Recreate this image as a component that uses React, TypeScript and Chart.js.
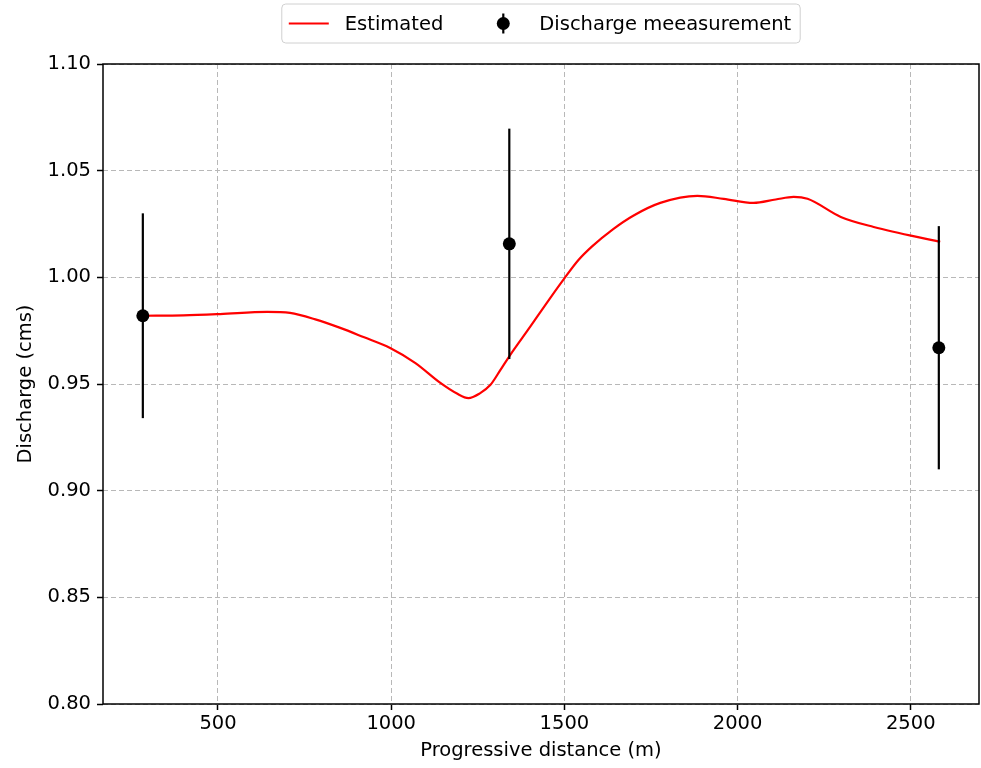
import React, { useEffect, useRef } from "react";
import { Chart, registerables } from "chart.js";

Chart.register(...registerables);

// Estimated discharge curve
const estX = [283, 400, 506, 642, 708, 781, 853, 920, 997, 1070, 1142, 1190, 1223, 1255, 1286, 1315, 1341, 1402, 1460, 1500, 1540, 1580, 1640, 1700, 1777, 1884, 1960, 2046, 2110, 2162, 2202, 2298, 2393, 2585];
const estY = [0.982, 0.9822, 0.9828, 0.9838, 0.9833, 0.9803, 0.9763, 0.972, 0.9669, 0.9598, 0.9505, 0.9455, 0.9434, 0.9455, 0.9495, 0.9565, 0.963, 0.977, 0.9905, 0.9995, 1.008, 1.0145, 1.0225, 1.029, 1.0349, 1.0382, 1.0368, 1.0349, 1.0365, 1.0377, 1.0368, 1.0283, 1.0236, 1.0166];

// Discharge measurements with error
const measX = [283, 1341, 2581];
const measY = [0.982, 1.0157, 0.967];
const measErr = [0.048, 0.054, 0.057];

const xTicks = [500, 1000, 1500, 2000, 2500];
const yTicks = [0.8, 0.85, 0.9, 0.95, 1.0, 1.05, 1.1];

const xTitle = "Progressive distance (m)";
const yTitle = "Discharge (cms)";
const legendLabels = ["Estimated", "Discharge meeasurement"];

const FONT = "DejaVu Sans";
const FS = 19.5;

export default function App() {
  const ref = useRef<HTMLCanvasElement | null>(null);

  useEffect(() => {
    const canvas = ref.current;
    if (!canvas) return;

    const errorBars = {
      id: "errorBars",
      afterDatasetsDraw(chart: any) {
        const ctx = chart.ctx;
        const xs = chart.scales.x;
        const ys = chart.scales.y;
        ctx.save();
        ctx.strokeStyle = "#000";
        ctx.lineWidth = 2.2;
        for (let i = 0; i < measX.length; i++) {
          const px = xs.getPixelForValue(measX[i]);
          ctx.beginPath();
          ctx.moveTo(px, ys.getPixelForValue(measY[i] - measErr[i]));
          ctx.lineTo(px, ys.getPixelForValue(measY[i] + measErr[i]));
          ctx.stroke();
        }
        for (let i = 0; i < measX.length; i++) {
          ctx.beginPath();
          ctx.fillStyle = "#000";
          ctx.arc(xs.getPixelForValue(measX[i]), ys.getPixelForValue(measY[i]), 6.5, 0, Math.PI * 2);
          ctx.fill();
        }
        ctx.restore();
      },
    };

    const frameAndLegend = {
      id: "frameAndLegend",
      afterDraw(chart: any) {
        const ctx = chart.ctx;
        const a = chart.chartArea;
        ctx.save();
        ctx.strokeStyle = "#000";
        ctx.lineWidth = 1.5;
        ctx.strokeRect(a.left, a.top, a.right - a.left, a.bottom - a.top);

        // legend
        ctx.font = `${FS}px "${FONT}"`;
        const w1 = ctx.measureText(legendLabels[0]).width;
        const w2 = ctx.measureText(legendLabels[1]).width;
        const handle = 40;
        const gapText = 16;
        const colGap = 40;
        const padL = 7;
        const padR = 9;
        const totalW = padL + handle + gapText + w1 + colGap + handle + gapText + w2 + padR;
        const cx = (a.left + a.right) / 2;
        const bx = cx - totalW / 2;
        const by = 4;
        const bh = 39;
        const cy = by + bh / 2;
        ctx.beginPath();
        const r = 4;
        ctx.moveTo(bx + r, by);
        ctx.lineTo(bx + totalW - r, by);
        ctx.quadraticCurveTo(bx + totalW, by, bx + totalW, by + r);
        ctx.lineTo(bx + totalW, by + bh - r);
        ctx.quadraticCurveTo(bx + totalW, by + bh, bx + totalW - r, by + bh);
        ctx.lineTo(bx + r, by + bh);
        ctx.quadraticCurveTo(bx, by + bh, bx, by + bh - r);
        ctx.lineTo(bx, by + r);
        ctx.quadraticCurveTo(bx, by, bx + r, by);
        ctx.closePath();
        ctx.fillStyle = "rgba(255,255,255,0.8)";
        ctx.fill();
        ctx.strokeStyle = "#d0d0d0";
        ctx.lineWidth = 1;
        ctx.stroke();

        let x = bx + padL;
        ctx.strokeStyle = "#ff0000";
        ctx.lineWidth = 2;
        ctx.beginPath();
        ctx.moveTo(x, cy);
        ctx.lineTo(x + handle, cy);
        ctx.stroke();
        x += handle + gapText;
        ctx.fillStyle = "#000";
        ctx.textBaseline = "middle";
        ctx.textAlign = "left";
        ctx.fillText(legendLabels[0], x, cy + 1);
        x += w1 + colGap;
        const mx = x + handle / 2;
        ctx.strokeStyle = "#000";
        ctx.lineWidth = 2.2;
        ctx.beginPath();
        ctx.moveTo(mx, cy - 10);
        ctx.lineTo(mx, cy + 10);
        ctx.stroke();
        ctx.beginPath();
        ctx.arc(mx, cy, 6.5, 0, Math.PI * 2);
        ctx.fill();
        x += handle + gapText;
        ctx.fillText(legendLabels[1], x, cy + 1);
        ctx.restore();
      },
    };

    const tickFont = { family: FONT, size: FS };

    const chart = new Chart(canvas, {
      type: "line",
      data: {
        datasets: [
          {
            label: legendLabels[0],
            data: estX.map((x, i) => ({ x, y: estY[i] })),
            borderColor: "#ff0000",
            borderWidth: 2.2,
            pointRadius: 0,
            cubicInterpolationMode: "monotone",
            fill: false,
          },
        ],
      },
      options: {
        animation: false,
        responsive: false,
        devicePixelRatio: 1,
        layout: { padding: { top: 64, left: 0, right: 2, bottom: 0 } },
        plugins: { legend: { display: false }, tooltip: { enabled: false } },
        scales: {
          x: {
            type: "linear",
            min: 168,
            max: 2697,
            afterBuildTicks: (s: any) => {
              s.ticks = xTicks.map((v) => ({ value: v }));
            },
            afterFit: (s: any) => {
              s.height = 64;
            },
            ticks: {
              font: tickFont,
              color: "#000",
              padding: 2,
              maxRotation: 0,
              callback: (v: any) => String(v),
            },
            grid: {
              color: "#b8b8b8",
              lineWidth: 1,
              tickColor: "#000",
              tickLength: 6,
              tickWidth: 1.5,
            },
            border: { display: false, dash: [5, 3] },
            title: {
              display: true,
              text: xTitle,
              font: tickFont,
              color: "#000",
              padding: { top: 0, bottom: 5 },
            },
          },
          y: {
            type: "linear",
            min: 0.8,
            max: 1.1,
            afterBuildTicks: (s: any) => {
              s.ticks = yTicks.map((v) => ({ value: v }));
            },
            afterFit: (s: any) => {
              s.width = 103;
            },
            ticks: {
              font: tickFont,
              color: "#000",
              padding: 6,
              callback: (v: any) => Number(v).toFixed(2),
            },
            grid: {
              color: "#b8b8b8",
              lineWidth: 1,
              tickColor: "#000",
              tickLength: 6,
              tickWidth: 1.5,
            },
            border: { display: false, dash: [5, 3] },
            title: {
              display: true,
              text: yTitle,
              font: tickFont,
              color: "#000",
              padding: { top: 14, bottom: 0 },
            },
          },
        },
      },
      plugins: [errorBars, frameAndLegend],
    } as any);

    return () => chart.destroy();
  }, []);

  return (
    <div style={{ position: "fixed", left: 0, top: 0, width: 981, height: 768, background: "#fff" }}>
      <canvas ref={ref} width={981} height={768} />
    </div>
  );
}
